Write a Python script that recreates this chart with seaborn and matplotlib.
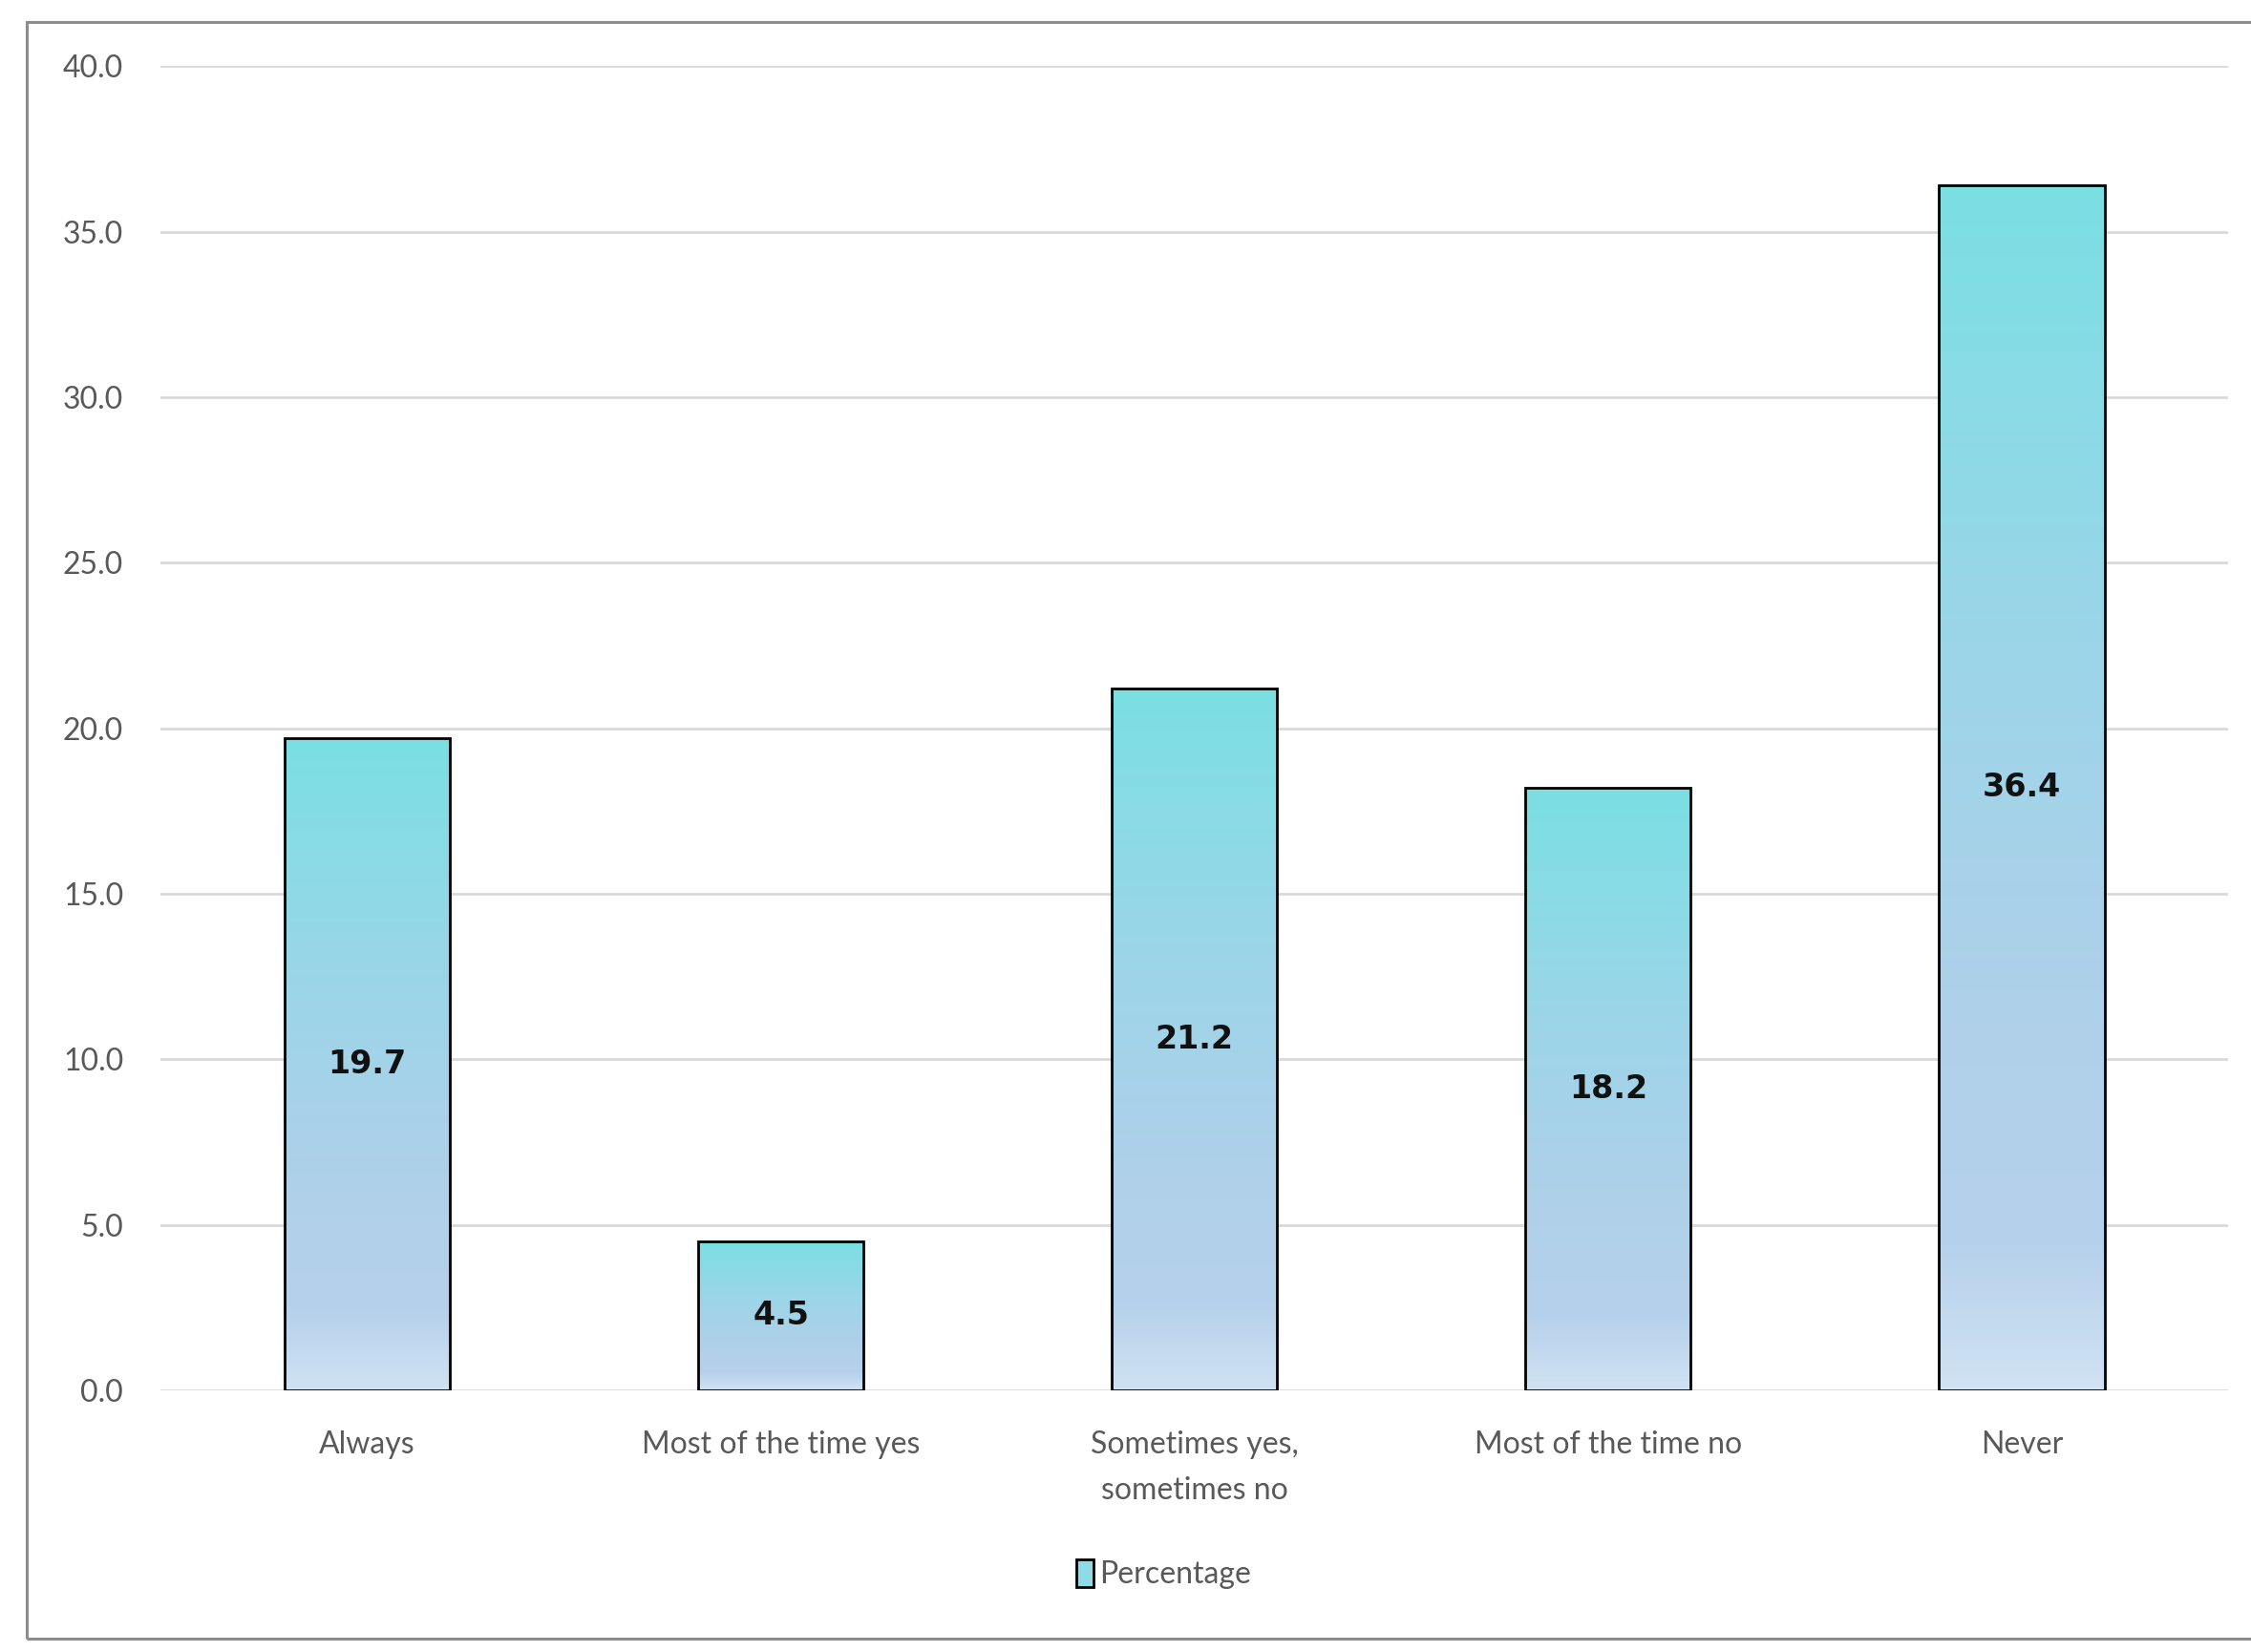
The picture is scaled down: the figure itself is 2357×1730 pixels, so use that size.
import numpy as np
import pandas as pd
import matplotlib
matplotlib.use('Agg')
import matplotlib.pyplot as plt
import seaborn as sns
from matplotlib.colors import LinearSegmentedColormap
from matplotlib.patches import Patch, Rectangle

categories = ['Always', 'Most of the time yes', 'Sometimes yes,\nsometimes no',
              'Most of the time no', 'Never']
percentages = [19.7, 4.5, 21.2, 18.2, 36.4]
y_ticks = [0, 5, 10, 15, 20, 25, 30, 35, 40]

df = pd.DataFrame({'Respuesta': categories, 'Percentage': percentages})

sns.set_theme(style='white')
plt.rcParams['font.family'] = ['Lato', 'DejaVu Sans']

fig = plt.figure(figsize=(23.57, 17.30), dpi=100)
ax = fig.add_axes([0.0713, 0.1584, 0.9187, 0.8016])

sns.barplot(data=df, x='Respuesta', y='Percentage', order=categories,
            width=0.4, color='#9fd6e8', edgecolor='black', linewidth=2.0,
            ax=ax, zorder=3)

# degradado vertical dentro de cada barra
grad = LinearSegmentedColormap.from_list(
    'grad', [(0.0, '#d0e2f3'), (0.12, '#b6d1eb'), (0.3, '#b0d0ea'),
             (0.6, '#9dd5e8'), (1.0, '#7adfe3')])
gradient = np.linspace(0, 1, 256).reshape(-1, 1)
for bar in ax.patches:
    x0, y0 = bar.get_x(), bar.get_y()
    w, h = bar.get_width(), bar.get_height()
    img = ax.imshow(gradient, cmap=grad, origin='lower', aspect='auto',
                    extent=(x0, x0 + w, y0, y0 + h), zorder=2.5)
    img.set_clip_path(bar)
    bar.set_facecolor('none')

ax.set_xlim(-0.5, len(categories) - 0.5)
ax.set_ylim(0, 40)
ax.set_yticks(y_ticks)
ax.set_yticklabels([f'{v:.1f}' for v in y_ticks])
ax.grid(axis='y', color='#d9d9d9', linewidth=2.0, zorder=0)
ax.set_axisbelow(True)
for s in ax.spines.values():
    s.set_visible(False)
ax.tick_params(axis='y', length=0, pad=28, labelsize=23, labelcolor='#595959')
ax.tick_params(axis='x', length=0, pad=30, labelsize=23, labelcolor='#595959')
for lbl in ax.get_xticklabels():
    lbl.set_linespacing(1.75)
ax.set_xlabel('')
ax.set_ylabel('')

ax.bar_label(ax.containers[0], labels=[f'{v:.1f}' for v in percentages],
             label_type='center', fontsize=24, color='#111111',
             family='DejaVu Sans', fontweight='bold', zorder=5)

handle = Patch(facecolor='#8edbe6', edgecolor='black', linewidth=2.0)
fig.legend([handle], ['Percentage'], loc='center', bbox_to_anchor=(0.517, 0.047),
           frameon=False, fontsize=23, labelcolor='#595959',
           handlelength=0.55, handleheight=1.0, handletextpad=0.2)

# marco exterior
fig.patches.append(Rectangle((28 / 2357, 1 - 1716 / 1730), 1.2, (1716 - 23) / 1730,
                             transform=fig.transFigure, fill=False,
                             edgecolor='#8c8c8c', linewidth=2.2))

fig.savefig('out.png', dpi=100)
